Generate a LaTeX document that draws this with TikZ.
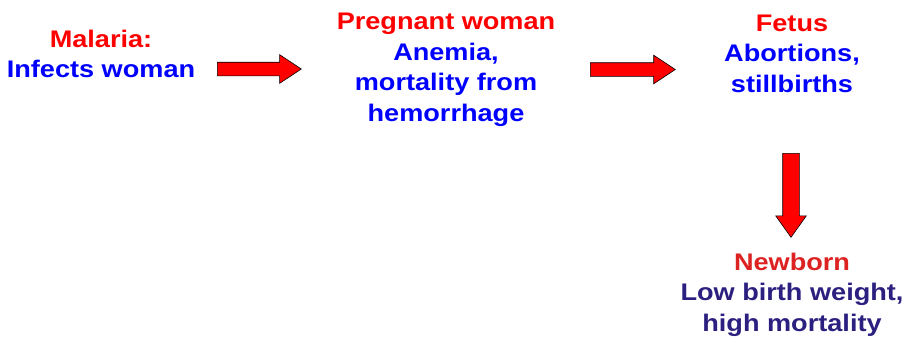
\documentclass[tikz,border=0pt]{standalone}
\usepackage{fontspec}
\setmainfont[FakeStretch=1.13]{Liberation Sans}
\usetikzlibrary{shapes.arrows,positioning}
\definecolor{hdred}{RGB}{255,0,0}
\definecolor{txblue}{RGB}{0,0,255}
\definecolor{nbred}{RGB}{221,34,34}
\definecolor{nbblue}{RGB}{43,31,127}

\begin{document}
\begin{tikzpicture}[x=1pt,y=1pt,
  stage/.style={align=center,inner sep=0pt,anchor=north,font=\bfseries\fontsize{24}{30.5}\selectfont},
  fatarrow/.style={single arrow,draw=black,fill=red,line width=0.6pt,inner xsep=0pt,inner ysep=6.5pt,
    single arrow head extend=7.5pt,single arrow tip angle=67,anchor=tail}]
  \useasboundingbox (0,0) rectangle (917,-338);
  % stages
  \node[stage] (malaria) at (101,-29.5) {\textcolor{hdred}{Malaria:}\\\textcolor{txblue}{Infects woman}};
  \node[stage] (pregnant) at (446,-13) {\textcolor{hdred}{Pregnant woman}\\\textcolor{txblue}{Anemia,}\\
    \textcolor{txblue}{mortality from}\\\textcolor{txblue}{hemorrhage}};
  \node[stage] (fetus) at (792,-14.5) {\textcolor{hdred}{Fetus}\\\textcolor{txblue}{Abortions,}\\\textcolor{txblue}{stillbirths}};
  \node[stage] (newborn) at (792,-252.5) {\textcolor{nbred}{Newborn}\\\textcolor{nbblue}{Low birth weight,}\\
    \textcolor{nbblue}{high mortality}};
  % arrows
  \node[fatarrow,minimum height=84pt] (arr1) at (217,-69) {};
  \node[fatarrow,minimum height=85pt] (arr2) at (590,-69.5) {};
  \node[fatarrow,minimum height=84pt,inner ysep=8pt,single arrow head extend=7pt,
    single arrow tip angle=71,rotate=-90] (arr3) at (791,-153) {};
\end{tikzpicture}
\end{document}
